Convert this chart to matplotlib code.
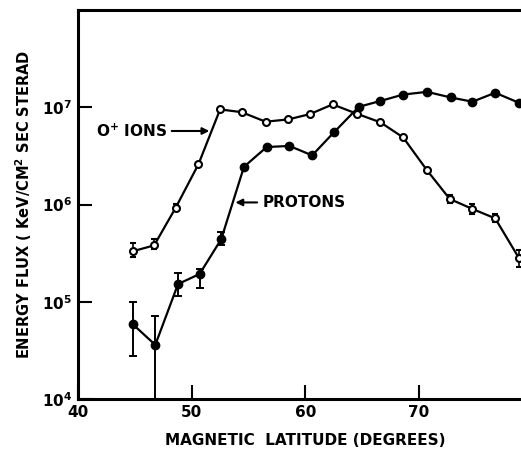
import matplotlib
matplotlib.use("Agg")
import matplotlib.pyplot as plt
import numpy as np

# O+ ions (open circles)
ion_lat = [44.8, 46.7, 48.6, 50.6, 52.5, 54.4, 56.5, 58.5, 60.4, 62.4, 64.5, 66.6, 68.6, 70.7, 72.7, 74.7, 76.7, 78.8]
ion_flux = [3.3e5, 3.8e5, 9.3e5, 2.6e6, 9.5e6, 8.9e6, 7.1e6, 7.5e6, 8.5e6, 1.07e7, 8.6e6, 7.0e6, 4.9e6, 2.25e6, 1.14e6, 9.0e5, 7.2e5, 2.8e5]
ion_err_lo = [0.4e5, 0.3e5, 0.6e5, 0, 0, 0, 0, 0, 0, 0, 0, 0, 0, 0, 1.0e5, 1.0e5, 0.6e5, 0.5e5]
ion_err_hi = [0.7e5, 0.6e5, 0.8e5, 0, 0, 0, 0, 0, 0, 0, 0, 0, 0, 0, 1.0e5, 1.2e5, 0.8e5, 0.6e5]

# Protons (filled circles)
prot_lat = [44.8, 46.8, 48.8, 50.7, 52.6, 54.6, 56.6, 58.6, 60.6, 62.5, 64.7, 66.6, 68.6, 70.7, 72.8, 74.7, 76.7, 78.8]
prot_flux = [5.9e4, 3.6e4, 1.52e5, 1.93e5, 4.4e5, 2.44e6, 3.9e6, 4.0e6, 3.2e6, 5.5e6, 1.01e7, 1.16e7, 1.35e7, 1.44e7, 1.26e7, 1.14e7, 1.41e7, 1.11e7]
prot_err_lo = [3.1e4, 2.6e4, 0.37e5, 0.56e5, 0.6e5, 0, 0, 0, 0, 0, 0, 0, 0, 0, 0, 0, 0, 0]
prot_err_hi = [4.1e4, 3.5e4, 0.44e5, 0.22e5, 0.8e5, 0, 0, 0, 0, 0, 0, 0, 0, 0, 0, 0, 0, 0]

xticks = [40, 50, 60, 70, 80]
yticks = [1e4, 1e5, 1e6, 1e7]
ytick_labels = [r"$\mathbf{10^4}$", r"$\mathbf{10^5}$", r"$\mathbf{10^6}$", r"$\mathbf{10^7}$"]

plt.rcParams['font.family'] = ['DejaVu Sans']
plt.rcParams['font.weight'] = 'bold'

fig = plt.figure(figsize=(5.21, 4.49), dpi=100)
ax = fig.add_axes([78/521, 1-399/449, 454.7/521, (399-10)/449])

ax.errorbar(prot_lat, prot_flux, yerr=[prot_err_lo, prot_err_hi], color='black', lw=1.6,
            marker='o', ms=6, mfc='black', mec='black', capsize=3, elinewidth=1.4, capthick=1.4, zorder=3)
ax.errorbar(ion_lat, ion_flux, yerr=[ion_err_lo, ion_err_hi], color='black', lw=1.6,
            marker='o', ms=5, mfc='white', mec='black', mew=1.5, capsize=2.5, elinewidth=1.2, capthick=1.2, zorder=4)

ax.set_yscale('log')
ax.set_xlim(40, 80)
ax.set_ylim(1e4, 1e8)
ax.set_xticks(xticks)
ax.set_xticklabels([str(v) for v in xticks], fontsize=11, fontweight='bold')
ax.set_yticks(yticks)
ax.set_yticklabels(ytick_labels, fontsize=11)
ax.yaxis.set_minor_locator(matplotlib.ticker.NullLocator())
ax.tick_params(axis='both', direction='in', length=10, width=1.5, pad=4)
for s in ax.spines.values():
    s.set_linewidth(2.2)

ax.set_xlabel("MAGNETIC  LATITUDE (DEGREES)", fontsize=11, fontweight='bold', labelpad=10)
ax.set_ylabel(r"ENERGY FLUX ( KeV/CM$^\mathbf{2}$ SEC STERAD", fontsize=10.5, fontweight='bold', labelpad=6)

ax.annotate("", xy=(51.8, 5.7e6), xytext=(48.0, 5.7e6),
            arrowprops=dict(arrowstyle='-|>', color='black', lw=1.5, mutation_scale=10))
ax.text(47.8, 5.7e6, r"O$^\mathbf{+}$ IONS", fontsize=11, fontweight='bold', ha='right', va='center')

ax.annotate("", xy=(53.6, 1.05e6), xytext=(56.0, 1.05e6),
            arrowprops=dict(arrowstyle='-|>', color='black', lw=1.5, mutation_scale=10))
ax.text(56.2, 1.05e6, "PROTONS", fontsize=11, fontweight='bold', ha='left', va='center')

fig.savefig("out.png", dpi=100)
